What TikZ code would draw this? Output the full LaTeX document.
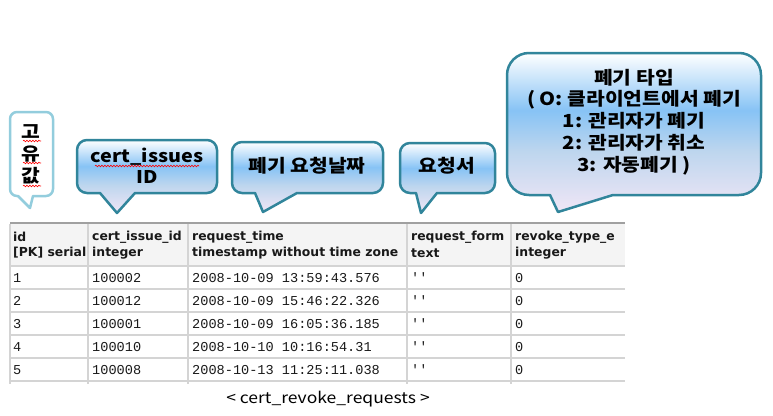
\documentclass[tikz,border=0pt]{standalone}
\usepackage{fontspec}
\setmainfont{DejaVu Sans}
\newfontfamily\kr[FakeStretch=1.13]{Noto Sans CJK KR}
\newfontfamily\hdr{DejaVu Sans}
\newfontfamily\mono{Liberation Mono}
\usetikzlibrary{decorations.pathmorphing}
\definecolor{teal2}{RGB}{49,133,155}
\definecolor{lblue}{RGB}{147,205,221}
\definecolor{sky}{RGB}{135,195,245}
\definecolor{pale}{RGB}{190,214,238}
\definecolor{lav}{RGB}{240,230,246}
\definecolor{gridc}{RGB}{212,212,212}
\definecolor{hdrbg}{RGB}{244,244,244}
\definecolor{topln}{RGB}{160,160,160}
\definecolor{txt}{RGB}{25,25,25}
\pgfdeclareverticalshading{bubshade}{100bp}{color(0bp)=(lav); color(25bp)=(lav); color(44bp)=(pale); color(57bp)=(sky); color(75bp)=(white); color(100bp)=(white)}
\newcommand\bubble[9]{%
 \path[#1] ({#2+#6},#3) -- ({#4-#6},#3) .. controls ({#4-0.448*#6},#3) and (#4,{#3+0.448*#6}) .. (#4,{#3+#6}) -- (#4,{#5-#6}) .. controls (#4,{#5-0.448*#6}) and ({#4-0.448*#6},#5) .. ({#4-#6},#5) -- (#9,#5) -- (#8) -- (#7,#5) -- ({#2+#6},#5) .. controls ({#2+0.448*#6},#5) and (#2,{#5-0.448*#6}) .. (#2,{#5-#6}) -- (#2,{#3+#6}) .. controls (#2,{#3+0.448*#6}) and ({#2+0.448*#6},#3) .. ({#2+#6},#3) -- cycle;}
\tikzset{
 bub/.style={draw=teal2, line width=2.5pt, shading=bubshade, line join=round},
 bubw/.style={draw=lblue, line width=2.5pt, fill=white, line join=round},
 btext/.style={font=\kr\bfseries\fontsize{18}{22}\selectfont, text=black, inner sep=0pt, align=center},
 squig/.style={red, line width=0.6pt, decorate, decoration={snake, amplitude=0.8pt, segment length=3pt}},
 gline/.style={draw=gridc, line width=1.5pt},
 htext/.style={font=\hdr\bfseries\fontsize{12.4}{14}\selectfont, text=txt, anchor=west, inner sep=0pt},
 dtext/.style={font=\mono\fontsize{13.6}{15}\selectfont, text=txt, anchor=west, inner sep=0pt},
}
\begin{document}
\begin{tikzpicture}[x=1pt,y=-1pt]
\useasboundingbox (0,0) rectangle (773,415);
% callouts
\bubble{bubw}{10}{112}{53}{196}{7}{18}{30,208}{33}
\bubble{bub}{77}{140}{217}{193}{10}{100}{117,213}{135}
\bubble{bub}{232}{142}{383}{193}{10}{255}{263,212}{297}
\bubble{bub}{400}{143}{495}{193}{10}{416}{421,213}{437}
\bubble{bub}{507}{53}{761}{195}{22}{550}{558,212}{613}
\node[btext] (u1) at (31,132) {고};
\node[btext] (u2) at (31,154) {유};
\node[btext] (u3) at (31,176) {값};
\draw[squig] (23,141) -- (41,141);
\draw[squig] (23,163) -- (41,163);
\draw[squig] (23,186) -- (41,186);
\node[btext, font=\kr\bfseries\fontsize{17.5}{22}\selectfont] (cid) at (147,157) {cert\_issues};
\node[btext, font=\kr\bfseries\fontsize{17.5}{22}\selectfont] (cid2) at (147,177) {ID};
\draw[squig] (95,166) -- (199,166);
\node[btext] (rt) at (307,166) {폐기 요청날짜};
\node[btext] (rf) at (447,166) {요청서};
\node[btext, font=\kr\bfseries\fontsize{18}{21.8}\selectfont] (rtype) at (634,122) {폐기 타입\\( O: 클라이언트에서 폐기\\1: 관리자가 폐기\\2: 관리자가 취소\\3: 자동폐기 )};
% table
\fill[hdrbg] (10,224) rectangle (625,266);
\foreach \yy in {266,289,312,335,358,381} \draw[gline] (10,\yy) -- (625,\yy);
\foreach \xx in {10,88,188,407,511} \draw[gline] (\xx,224) -- (\xx,384);
\draw[topln, line width=2pt] (10,223) -- (625,223);
\node[htext] (h1a) at (13,237) {id};
\node[htext] (h1b) at (13,253) {[PK] serial};
\node[htext] (h2a) at (92,237) {cert\_issue\_id};
\node[htext] (h2b) at (92,253) {integer};
\node[htext] (h3a) at (192,237) {request\_time};
\node[htext] (h3b) at (192,253) {timestamp without time zone};
\node[htext] (h4a) at (411,237) {request\_form};
\node[htext] (h4b) at (411,253) {text};
\node[htext] (h5a) at (515,237) {revoke\_type\_e};
\node[htext] (h5b) at (515,253) {integer};
\foreach \i/\yy/\cid/\ts in {1/278/100002/2008-10-09 13:59:43.576, 2/301/100012/2008-10-09 15:46:22.326, 3/324/100001/2008-10-09 16:05:36.185, 4/347/100010/2008-10-10 10:16:54.31, 5/370/100008/2008-10-13 11:25:11.038}{
 \node[dtext] (id\i) at (13,\yy) {\i};
 \node[dtext] (ci\i) at (92,\yy) {\cid};
 \node[dtext] (ts\i) at (192,\yy) {\ts};
 \node[dtext] (fm\i) at (411,\yy) {\textquotesingle\textquotesingle};
 \node[dtext] (ty\i) at (515,\yy) {0};
}
\node[font=\kr\fontsize{15.5}{18}\selectfont, text=black, inner sep=0pt] (cap) at (328,399) {< cert\_revoke\_requests >};
\end{tikzpicture}
\end{document}
